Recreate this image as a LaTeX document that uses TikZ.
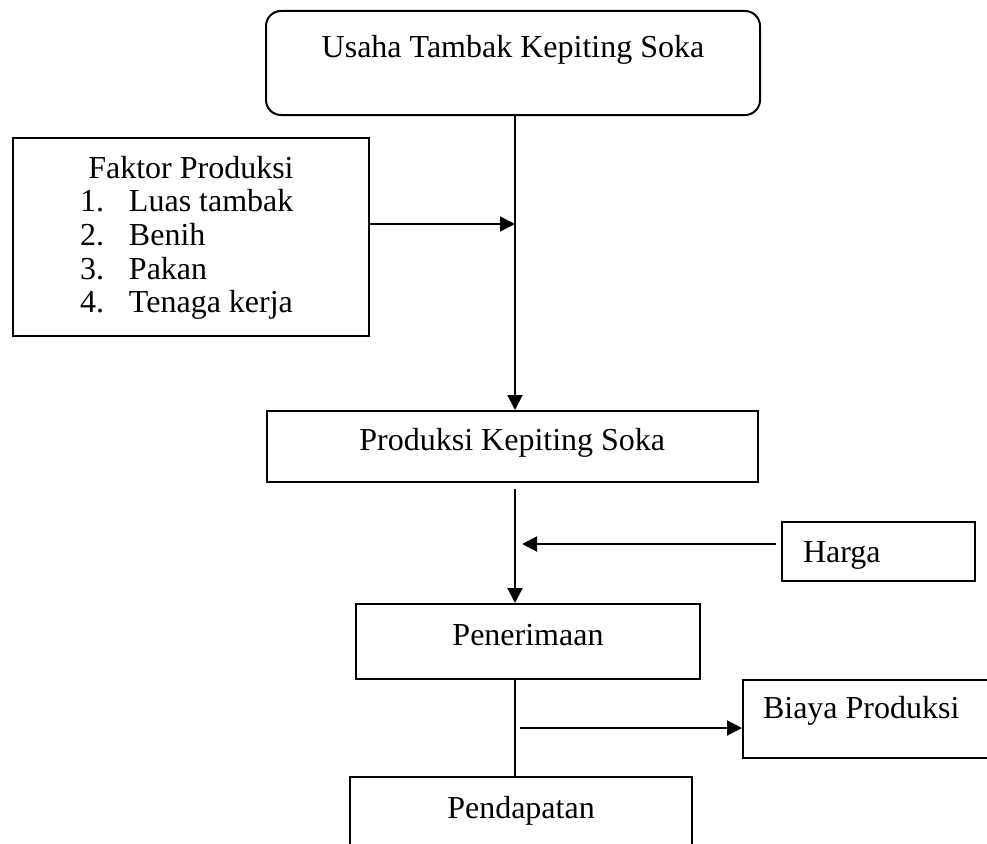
\documentclass[tikz,border=0pt]{standalone}
\usepackage{fontspec}
\setmainfont{Liberation Serif}
\usetikzlibrary{arrows.meta}
\tikzset{
  box/.style={draw, line width=2pt, inner sep=0pt, font=\fontsize{32}{33.7}\selectfont},
  conn/.style={line width=2pt},
  arr/.style={conn, -{Triangle[length=15pt,width=15pt]}},
}
\newcommand{\itemline}[2]{\hspace*{67pt}\makebox[49pt][l]{#1}#2}
\begin{document}
\begin{tikzpicture}[x=1pt,y=-1pt]
\useasboundingbox (0,0) rectangle (987,843);
\begin{scope}
\clip (0,0) rectangle (987,843);
% nodes
\node[box, rounded corners=15pt, minimum width=494pt, minimum height=104pt,
      text height=22pt, text depth=34pt] (usaha) at (513,63) {Usaha Tambak Kepiting Soka};
\node[box, anchor=north west, text width=356pt, align=flush left] (faktor) at (12,137)
  {\rule{0pt}{40pt}\makebox[356pt][c]{Faktor Produksi}\\
   \itemline{1.}{Luas tambak}\\
   \itemline{2.}{Benih}\\
   \itemline{3.}{Pakan}\\
   \itemline{4.}{Tenaga kerja}\rule[-23pt]{0pt}{23pt}};
\node[box, minimum width=491pt, minimum height=71pt,
      text height=22pt, text depth=15pt] (prod) at (512.3,446.5) {Produksi Kepiting Soka};
\node[box, inner xsep=21pt, text width=151pt, align=flush left, minimum height=59pt,
      text height=25pt, text depth=4pt] (harga) at (878.5,551.5) {Harga};
\node[box, minimum width=344pt, minimum height=75pt,
      text height=22pt, text depth=15pt] (terima) at (528,641.5) {Penerimaan};
\node[box, inner xsep=20pt, text width=217pt, align=flush left, minimum height=78pt,
      text height=22pt, text depth=24pt] (biaya) at (871.5,719) {Biaya Produksi};
\node[box, minimum width=342pt, minimum height=75pt,
      text height=22pt, text depth=15pt] (dapat) at (521,814.5) {Pendapatan};
% junction coordinates on the spine
\coordinate (spine) at (515,0);
\coordinate (jf) at (515,224);
\coordinate (jh) at (515,544);
\coordinate (jb) at (515,728);
% connectors
\draw[arr] (usaha.south -| spine) -- (prod.north -| spine);
\draw[arr] (faktor.east |- jf) -- (jf);
\draw[arr, shorten <=6pt] (prod.south -| spine) -- (terima.north -| spine);
\draw[arr, shorten <=5pt, shorten >=7pt] (harga.west |- jh) -- (jh);
\draw[conn] (terima.south -| spine) -- (dapat.north -| spine);
\draw[arr, shorten <=5pt] (jb) -- (biaya.west |- jb);
\end{scope}
\end{tikzpicture}
\end{document}
